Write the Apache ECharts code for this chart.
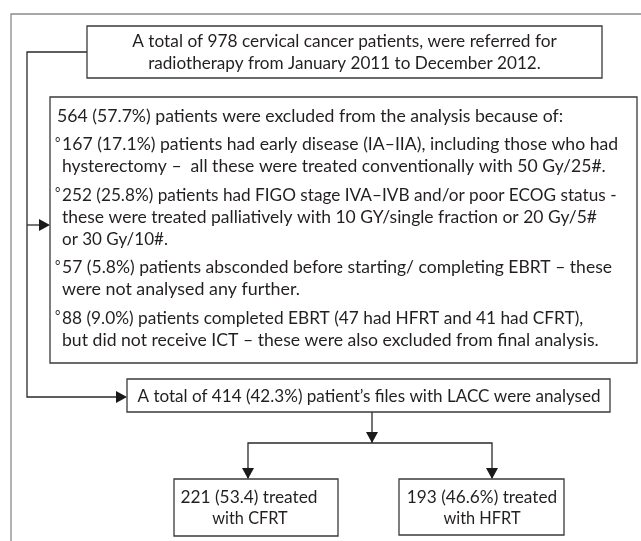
<!DOCTYPE html>
<html>
<head>
<meta charset="utf-8">
<script src="https://cdn.jsdelivr.net/npm/echarts@6/dist/echarts.min.js"></script>
<style>
    html, body {margin: 0; padding: 0; background: #fff;}
    #flow {width: 641px; height: 541px;}
</style>
</head>
<body>
<div id="flow"></div>
<script>
// box texts
var referredLines = [
    "A total of 978 cervical cancer patients, were referred for",
    "radiotherapy from January 2011 to December 2012."
];
var excludedHead = "564 (57.7%) patients were excluded from the analysis because of:";
var excludedItems = [
    ["167 (17.1%) patients had early disease (IA\u2013IIA), including those who had",
     "hysterectomy \u2013  all these were treated conventionally with 50 Gy/25#."],
    ["252 (25.8%) patients had FIGO stage IVA\u2013IVB and/or poor ECOG status -",
     "these were treated palliatively with 10 GY/single fraction or 20 Gy/5#",
     "or 30 Gy/10#."],
    ["57 (5.8%) patients absconded before starting/ completing EBRT \u2013 these",
     "were not analysed any further."],
    ["88 (9.0%) patients completed EBRT (47 had HFRT and 41 had CFRT),",
     "but did not receive ICT \u2013 these were also excluded from final analysis."]
];
var analysedLine = "A total of 414 (42.3%) patient\u2019s files with LACC were analysed";
var cfrtLines = ["221 (53.4) treated", "with CFRT"];
var hfrtLines = ["193 (46.6%) treated", "with HFRT"];

// the original is set in Calibri; Lato is drawn and stretched to Calibri advance widths (units/2048)
var calibriAdv = {
    ' ': 463, '#': 1022, '%': 1463, '(': 621, ')': 621, ',': 511, '-': 627, '.': 517, '/': 792,
    ':': 548, '\u2013': 1024, '\u2019': 463,
    A: 1185, B: 1114, C: 1092, D: 1260, E: 1000, F: 941, G: 1292, H: 1276, I: 516, J: 653,
    K: 1064, L: 861, M: 1751, N: 1322, O: 1356, P: 1058, R: 1112, S: 941, T: 998, V: 1162, Y: 998,
    a: 981, b: 1076, c: 866, d: 1076, e: 1019, f: 625, g: 964, h: 1076, i: 470, j: 490, k: 931,
    l: 470, m: 1636, n: 1076, o: 1080, p: 1076, q: 1076, r: 714, s: 801, t: 686, u: 1076,
    v: 925, w: 1464, x: 887, y: 927, z: 809
};

var FONT = 'Lato, "Liberation Sans", sans-serif';
var CAL = 18.6;      // calibri size, boxes
var CAL_MID = 19.0;  // calibri size, exclusion list
var INK = '#231f20';
var els = [];
var ctx = document.createElement('canvas').getContext('2d');

function calibriWidth(s, size) {
    var w = 0;
    for (var i = 0; i < s.length; i++) {
        var c = s.charAt(i);
        w += calibriAdv[c] || (c >= '0' && c <= '9' ? 1038 : 1000);
    }
    return w * size / 2048;
}

function box(x, y, w, h) {
    els.push({
        type: 'rect',
        shape: {x: x, y: y, width: w, height: h},
        style: {fill: '#fff', stroke: '#3a3a3a', lineWidth: 1.3}
    });
}

function line(pts, color) {
    els.push({
        type: 'polyline',
        shape: {points: pts},
        style: {fill: null, stroke: color || '#2a2a2a', lineWidth: 1.3}
    });
}

function head(x, y, dir) {
    var pts;
    if (dir === 'right') {
        pts = [[x, y], [x - 11, y - 6], [x - 11, y + 6]];
    } else {
        pts = [[x, y], [x - 6, y - 11], [x + 6, y - 11]];
    }
    els.push({type: 'polygon', shape: {points: pts}, style: {fill: '#1a1a1a'}});
}

function txt(s, x, y, align, cal) {
    cal = cal || CAL;
    var font = (cal * 0.93).toFixed(2) + 'px ' + FONT;
    ctx.font = font;
    var k = calibriWidth(s, cal) / ctx.measureText(s).width;
    els.push({
        type: 'text',
        x: x, y: y, scaleX: k,
        style: {
            text: s, fill: INK, font: font,
            align: align || 'left', verticalAlign: 'middle'
        }
    });
}

// outer frame
els.push({
    type: 'rect',
    shape: {x: 11, y: 14, width: 700, height: 600},
    style: {fill: null, stroke: '#8a8a8a', lineWidth: 1.3}
});

// connectors
line([[87, 52], [27, 52], [27, 397], [116, 397]]);
line([[27, 225], [39, 225]]);
head(50, 225, 'right');
head(127, 397, 'right');
line([[372, 412], [372, 443]]);
head(372, 443, 'down');
line([[248, 478], [248, 443], [492, 443], [492, 478]]);
head(248, 479, 'down');
head(492, 479, 'down');

// top box
box(87, 26, 515, 52);
txt(referredLines[0], 344.5, 41, 'center');
txt(referredLines[1], 344.5, 63, 'center');

// exclusion box
box(50, 97, 587, 266);
txt(excludedHead, 57, 116, 'left', CAL_MID);
var yy = 144.5;
excludedItems.forEach(function (item) {
    els.push({
        type: 'text', x: 55, y: yy - 2,
        style: {text: '\u00b0', fill: INK, font: '13px ' + FONT, verticalAlign: 'middle'}
    });
    item.forEach(function (s, i) {
        txt(s, 62, yy, 'left', CAL_MID);
        yy += (i === item.length - 1) ? 28.5 : 22;
    });
});

// analysed box
box(127, 379, 483, 33);
txt(analysedLine, 369, 396, 'center');

// arms
box(174, 479, 164, 57);
txt(cfrtLines[0], 249, 497, 'center');
txt(cfrtLines[1], 250, 518, 'center');
box(399, 479, 165, 56);
txt(hfrtLines[0], 482, 497, 'center');
txt(hfrtLines[1], 482, 518, 'center');

var myChart = echarts.init(document.getElementById('flow'), null, {renderer: 'canvas'});
myChart.setOption({
    animation: false,
    graphic: {elements: els}
});
</script>
</body>
</html>
